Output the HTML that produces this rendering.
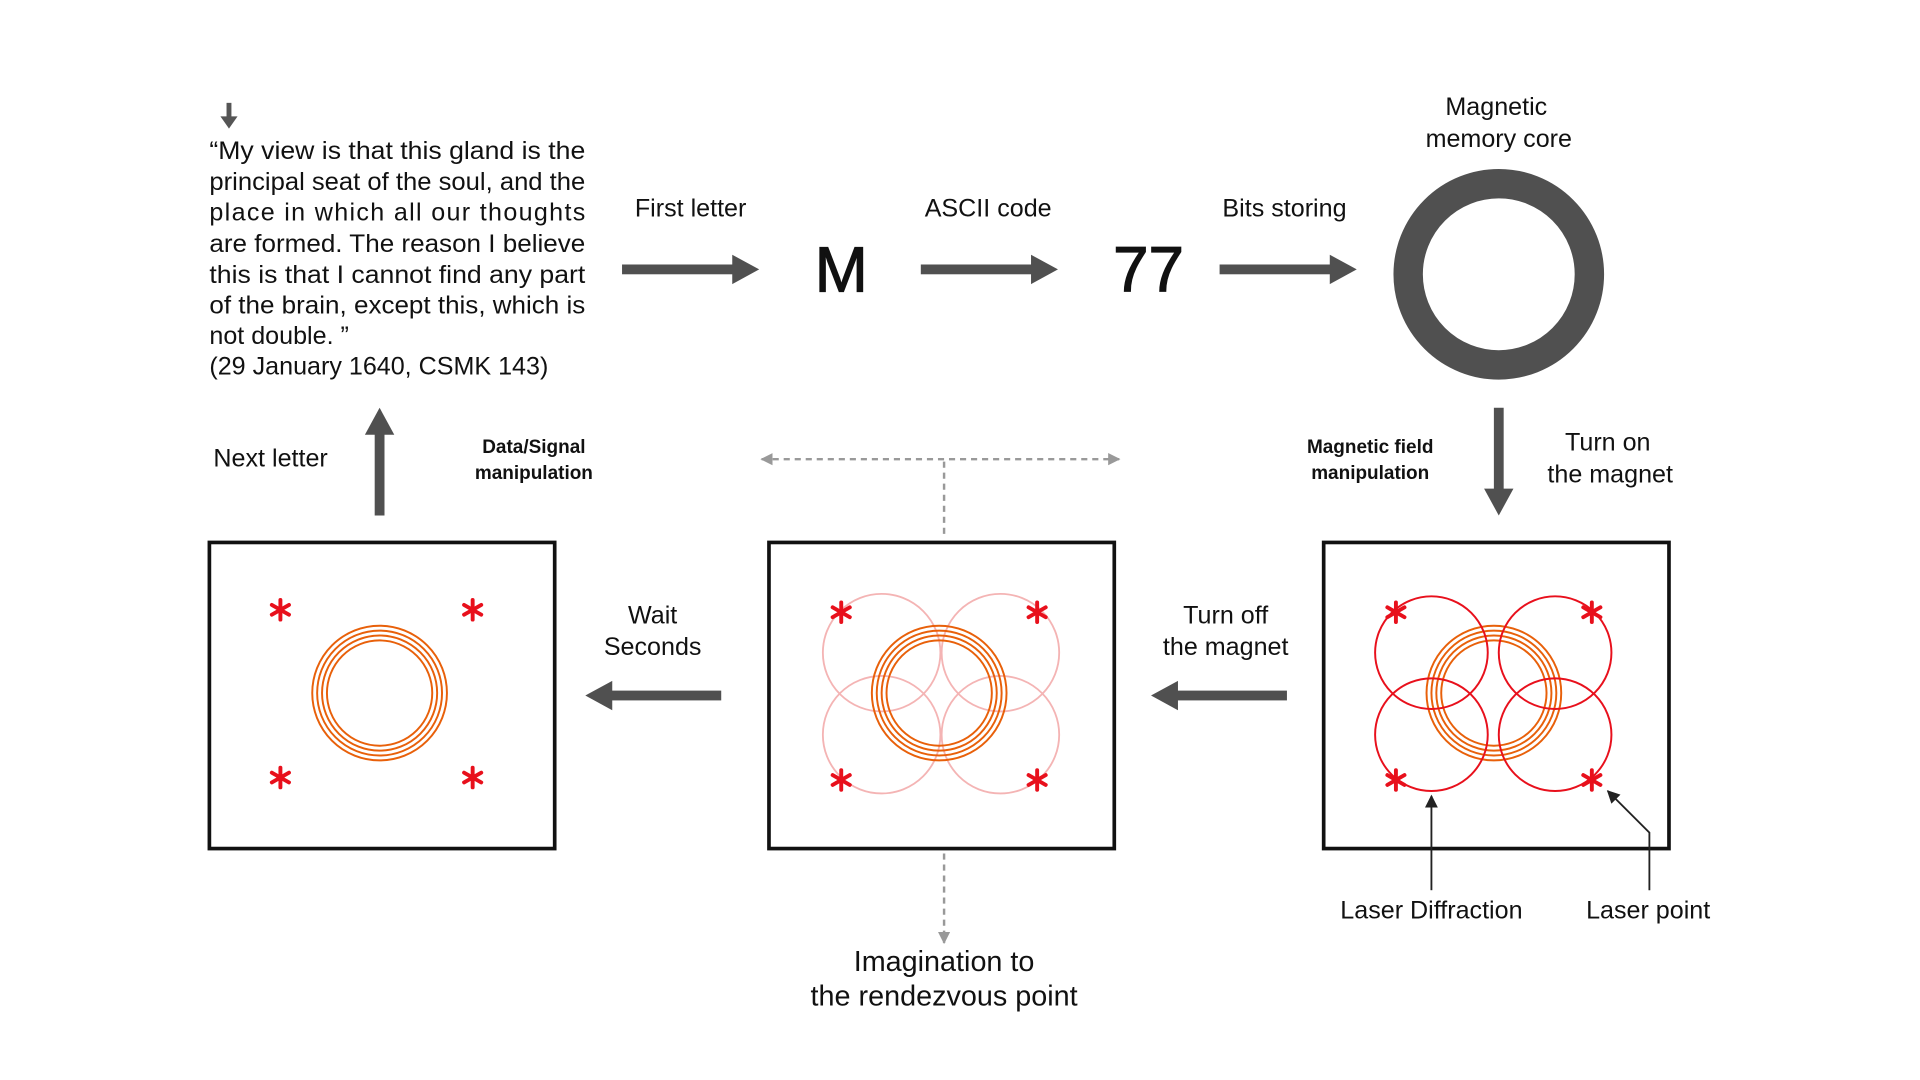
<!DOCTYPE html>
<html><head><meta charset="utf-8"><style>
html,body{margin:0;padding:0;background:#fff;}
svg{display:block;}
text{font-family:"Liberation Sans",sans-serif;fill:#111;}
</style></head><body>
<svg width="1920" height="1080" viewBox="0 0 1568 882" xmlns="http://www.w3.org/2000/svg">
<defs>
<marker id="ah" viewBox="0 0 10 10" refX="9" refY="5" markerWidth="7" markerHeight="7" orient="auto-start-reverse"><path d="M0,0 L10,5 L0,10 z" fill="#222"/></marker>
<marker id="gh" viewBox="0 0 10 10" refX="9" refY="5" markerWidth="5" markerHeight="5" orient="auto-start-reverse"><path d="M0,0 L10,5 L0,10 z" fill="#999"/></marker>
<g id="rings" fill="none" stroke="#e8600a" stroke-width="1.6"><circle r="55"/><circle r="51"/><circle r="47"/><circle r="43"/></g>
<g id="ast" stroke="#e8101c" stroke-width="3.2" stroke-linecap="round"><line x1="0" y1="-8" x2="0" y2="8"/><line x1="-7" y1="-4" x2="7" y2="4"/><line x1="-7" y1="4" x2="7" y2="-4"/></g>
</defs>
<rect width="1568" height="882" fill="#fff"/>
<rect x="185" y="84" width="4" height="12" fill="#555"/><path d="M180,95 L194,95 L187,105 z" fill="#555"/>
<g font-size="20.5">
<text x="171" y="130" textLength="307" lengthAdjust="spacingAndGlyphs">“My view is that this gland is the</text>
<text x="171" y="155" textLength="307" lengthAdjust="spacingAndGlyphs">principal seat of the soul, and the</text>
<text x="171" y="180" textLength="307" lengthAdjust="spacing">place in which all our thoughts</text>
<text x="171" y="206" textLength="307" lengthAdjust="spacingAndGlyphs">are formed.  The reason I believe</text>
<text x="171" y="231" textLength="307" lengthAdjust="spacingAndGlyphs">this is that I cannot find any part</text>
<text x="171" y="256" textLength="307" lengthAdjust="spacingAndGlyphs">of the brain, except this, which is</text>
<text x="171" y="281">not double. ”</text>
<text x="171" y="306">(29 January 1640, CSMK 143)</text>
</g>
<g font-size="20.5" text-anchor="middle">
<text x="564" y="177">First letter</text>
<text x="807" y="177">ASCII code</text>
<text x="1049" y="177">Bits storing</text>
<text x="1222" y="94">Magnetic</text>
<text x="1224" y="120">memory core</text>
<text x="1313" y="368">Turn on</text>
<text x="1315" y="394">the magnet</text>
<text x="221" y="381">Next letter</text>
<text x="533" y="509">Wait</text>
<text x="533" y="535">Seconds</text>
<text x="1001" y="509">Turn off</text>
<text x="1001" y="535">the magnet</text>
<text x="1169" y="750">Laser Diffraction</text>
<text x="1346" y="750">Laser point</text>
</g>
<g font-size="15.5" text-anchor="middle" font-weight="bold">
<text x="436" y="370">Data/Signal</text>
<text x="436" y="391">manipulation</text>
<text x="1119" y="370">Magnetic field</text>
<text x="1119" y="391">manipulation</text>
</g>
<g font-size="23.5" text-anchor="middle">
<text x="771" y="793">Imagination to</text>
<text x="771" y="821">the rendezvous point</text>
</g>
<text x="687" y="238" font-size="52" text-anchor="middle" stroke="#111" stroke-width="1">M</text>
<text x="938" y="238" font-size="52" text-anchor="middle" stroke="#111" stroke-width="1">77</text>
<g fill="#505050">
<rect x="508" y="216" width="92" height="8"/><path d="M598,208 L620,220 L598,232 z"/>
<rect x="752" y="216" width="92" height="8"/><path d="M842,208 L864,220 L842,232 z"/>
<rect x="996" y="216" width="92" height="8"/><path d="M1086,208 L1108,220 L1086,232 z"/>
<rect x="1220" y="333" width="8" height="68"/><path d="M1212,399 L1236,399 L1224,421 z"/>
<rect x="306" y="353" width="8" height="68"/><path d="M298,355 L322,355 L310,333 z"/>
<rect x="498" y="564" width="91" height="8"/><path d="M500,556 L500,580 L478,568 z"/>
<rect x="960" y="564" width="91" height="8"/><path d="M962,556 L962,580 L940,568 z"/>
</g>
<circle cx="1224" cy="224" r="74" fill="none" stroke="#505050" stroke-width="24"/>
<g stroke="#999" stroke-width="2" stroke-dasharray="5,4" fill="none">
<line x1="622" y1="375" x2="914" y2="375" marker-start="url(#gh)" marker-end="url(#gh)"/>
<line x1="771" y1="377" x2="771" y2="437"/>
<line x1="771" y1="697" x2="771" y2="770" marker-end="url(#gh)"/>
</g>
<g fill="none" stroke="#111" stroke-width="3">
<rect x="171" y="443" width="282" height="250"/>
<rect x="628" y="443" width="282" height="250"/>
<rect x="1081" y="443" width="282" height="250"/>
</g>
<use href="#rings" x="310" y="566"/>
<g fill="none" stroke="#f4b4b4" stroke-width="1.5">
<circle cx="720" cy="533" r="48"/><circle cx="817" cy="533" r="48"/><circle cx="720" cy="600" r="48"/><circle cx="817" cy="600" r="48"/>
</g>
<use href="#rings" x="767" y="566"/>
<use href="#rings" x="1220" y="566"/>
<g fill="none" stroke="#e8101c" stroke-width="1.6">
<circle cx="1169" cy="533" r="46"/><circle cx="1270" cy="533" r="46"/><circle cx="1169" cy="600" r="46"/><circle cx="1270" cy="600" r="46"/>
</g>
<use href="#ast" x="229" y="498"/><use href="#ast" x="386" y="498"/>
<use href="#ast" x="229" y="635"/><use href="#ast" x="386" y="635"/>
<use href="#ast" x="687" y="500"/><use href="#ast" x="847" y="500"/>
<use href="#ast" x="687" y="637"/><use href="#ast" x="847" y="637"/>
<use href="#ast" x="1140" y="500"/><use href="#ast" x="1300" y="500"/>
<use href="#ast" x="1140" y="637"/><use href="#ast" x="1300" y="637"/>
<g stroke="#222" stroke-width="1.5" fill="none">
<line x1="1169" y1="727" x2="1169" y2="650" marker-end="url(#ah)"/>
<polyline points="1347,727 1347,680 1313,646" marker-end="url(#ah)"/>
</g>
</svg>
</body></html>
